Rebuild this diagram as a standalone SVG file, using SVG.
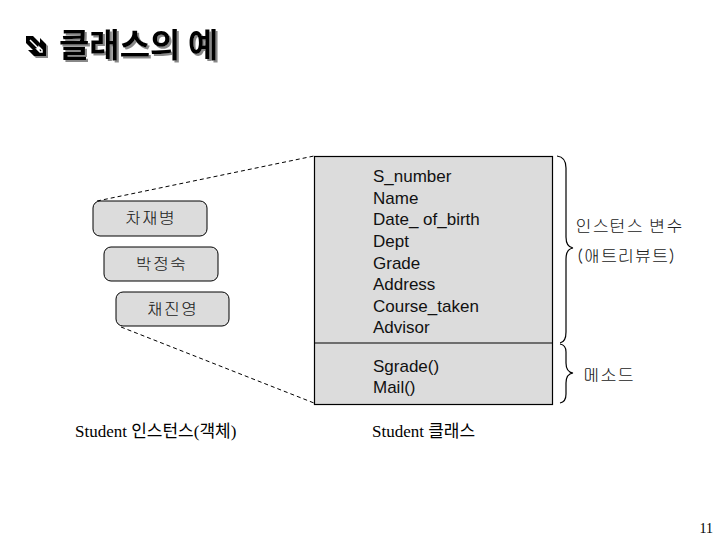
<svg xmlns="http://www.w3.org/2000/svg" width="720" height="540" viewBox="0 0 720 540">
<defs>
<filter id="shadow" x="-10%" y="-20%" width="130%" height="150%">
  <feDropShadow dx="2" dy="2" stdDeviation="0.6" flood-color="#888" flood-opacity="1"/>
</filter>
</defs>
<style>
.obj{fill:#dcdcdc;stroke:#000;stroke-width:1}
.kr{font-family:"Gulim","Noto Sans CJK KR","Noto Sans",sans-serif;font-size:17px;fill:#222}
.attr{font-family:"Liberation Sans","Noto Sans CJK KR",sans-serif;font-size:17px;fill:#111}
.ser{font-family:"Liberation Serif","Noto Sans CJK KR",serif;font-size:17px;fill:#000}
.dash{fill:none;stroke:#000;stroke-width:1;stroke-dasharray:4,3}
.brace{fill:none;stroke:#000;stroke-width:1.2}
.title{font-family:"Noto Sans CJK KR",sans-serif;font-size:33px;font-weight:bold}
</style>
<rect width="720" height="540" fill="#fff"/>
<g id="title" filter="url(#shadow)">
  <path d="M26,36 L33,36 L40,43 L40,38 L46,44 L46,56 L34,56 L28,50 L33,50 L26,43 Z" fill="#000"/>
  <path d="M30,40 L39,49 L39,47 L42,50 L42,52 L40,52 L37,49 L39,49" fill="none" stroke="#fff" stroke-width="1.5"/>
  <text x="59" y="57" class="title" fill="#000">클래스의 예</text>
</g>
<g id="connectors">
  <path class="dash" d="M97,201 L314,156"/>
  <path class="dash" d="M121,327 L314,403"/>
  <path class="brace" d="M557,156 Q566,157 566,168 L566,237 Q566,247 573,248 Q566,249 566,259 L566,332 Q566,342 560,343"/>
  <path class="brace" d="M560,344 Q566,345 566,352 L566,363 Q566,372 573,373 Q566,374 566,383 L566,394 Q566,402 560,403"/>
</g>
<g id="obj1">
  <rect class="obj" x="93" y="201" width="114" height="35" rx="7"/>
  <text class="kr" x="150" y="224" text-anchor="middle">차재병</text>
</g>
<g id="obj2">
  <rect class="obj" x="104" y="247" width="114" height="34" rx="7"/>
  <text class="kr" x="161" y="270" text-anchor="middle">박정숙</text>
</g>
<g id="obj3">
  <rect class="obj" x="116" y="292" width="113" height="34" rx="7"/>
  <text class="kr" x="172" y="315" text-anchor="middle">채진영</text>
</g>
<g id="class">
  <rect x="314.5" y="156.5" width="238" height="248" fill="#dcdcdc" stroke="#000" stroke-width="1.2"/>
  <line x1="314.5" y1="343" x2="552.5" y2="343" stroke="#000" stroke-width="1.2"/>
  <text class="attr" x="373" y="182">S_number</text>
  <text class="attr" x="373" y="204">Name</text>
  <text class="attr" x="373" y="225">Date_ of_birth</text>
  <text class="attr" x="373" y="247">Dept</text>
  <text class="attr" x="373" y="269">Grade</text>
  <text class="attr" x="373" y="290">Address</text>
  <text class="attr" x="373" y="312">Course_taken</text>
  <text class="attr" x="373" y="333">Advisor</text>
  <text class="attr" x="373" y="372">Sgrade()</text>
  <text class="attr" x="373" y="393">Mail()</text>
</g>
<g id="labels">
  <text class="kr" x="575" y="232">인스턴스 변수</text>
  <text class="kr" x="577" y="262">(애트리뷰트)</text>
  <text class="kr" x="583" y="381">메소드</text>
  <text class="ser" x="75" y="437">Student 인스턴스(객체)</text>
  <text class="ser" x="372" y="437">Student 클래스</text>
  <text x="713" y="533" text-anchor="end" font-family="Liberation Serif,serif" font-size="14px">11</text>
</g>
</svg>
